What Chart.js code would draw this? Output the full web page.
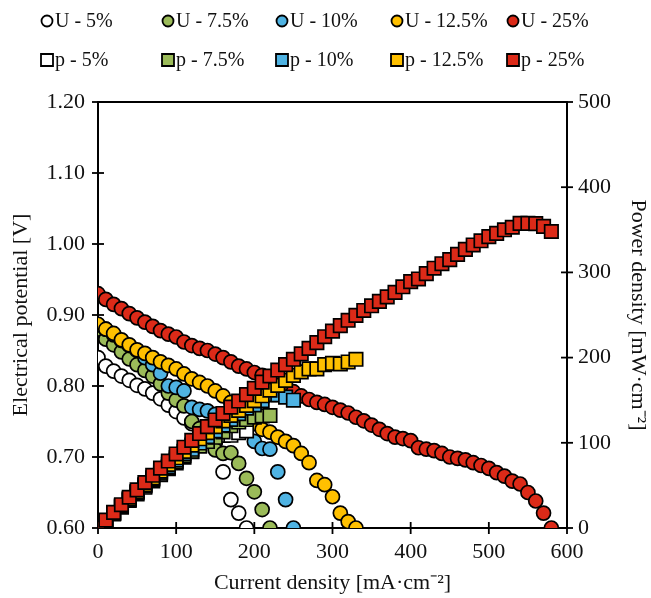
<!DOCTYPE html>
<html><head><meta charset="utf-8">
<script src="https://cdn.jsdelivr.net/npm/chart.js@4.4.0/dist/chart.umd.min.js"></script>
<style>html,body{margin:0;padding:0;background:#fff}</style>
</head><body>
<canvas id="c" width="651" height="598"></canvas>
<script>
// Current density [mA·cm-2]
const current = [0,10,20,30,40,50,60,70,80,90,100,110,120,130,140,150,160,170,180,190,200,210,220,230,240,250,260,270,280,290,300,310,320,330,340,350,360,370,380,390,400,410,420,430,440,450,460,470,480,490,500,510,520,530,540,550,560,570,580];

// Electrical potential [V]
const U5 = [0.840,0.828,0.821,0.814,0.808,0.801,0.796,0.790,0.782,0.773,0.764,0.755,0.747,0.740,0.735,0.720,0.679,0.640,0.621,0.600];
const U75 = [0.880,0.866,0.858,0.848,0.838,0.830,0.822,0.814,0.803,0.790,0.780,0.772,0.750,0.740,0.725,0.710,0.705,0.706,0.691,0.670,0.651,0.626,0.600];
const U10 = [0.886,0.880,0.872,0.864,0.857,0.850,0.840,0.830,0.818,0.800,0.798,0.793,0.770,0.767,0.765,0.760,0.755,0.750,0.745,0.740,0.722,0.712,0.711,0.679,0.640,0.600];
const U125 = [0.887,0.880,0.874,0.865,0.858,0.851,0.846,0.840,0.834,0.829,0.824,0.817,0.810,0.805,0.800,0.793,0.786,0.777,0.767,0.757,0.747,0.739,0.735,0.728,0.722,0.716,0.705,0.692,0.667,0.661,0.644,0.621,0.609,0.600];
const U25 = [0.930,0.922,0.915,0.909,0.902,0.896,0.890,0.884,0.878,0.873,0.869,0.862,0.857,0.853,0.850,0.845,0.840,0.834,0.828,0.824,0.819,0.815,0.811,0.806,0.799,0.792,0.786,0.781,0.777,0.774,0.770,0.766,0.762,0.756,0.751,0.745,0.739,0.733,0.728,0.726,0.723,0.713,0.711,0.709,0.705,0.700,0.698,0.696,0.692,0.688,0.684,0.678,0.673,0.666,0.662,0.650,0.638,0.621,0.600];

// Power density [mW·cm-2]
const p5 = [0,8.3,16.4,24.4,32.3,40.1,47.8,55.3,62.6,69.6,76.4,83.1,89.6,96.2,102.9,108.0,108.6,108.8,111.8,114.0];
const p75 = [0,8.7,17.2,25.4,33.5,41.5,49.3,57.0,64.2,71.1,78.0,84.9,90.0,96.2,101.5,106.5,112.8,120.0,124.4,127.3,130.2,131.5,132.0];
const p10 = [0,8.8,17.4,25.9,34.3,42.5,50.4,58.1,65.4,72.0,79.8,87.2,92.4,99.7,107.1,114.0,120.8,127.5,134.1,140.6,144.4,149.5,156.4,156.2,153.6,150.0];
const p125 = [0,8.8,17.5,26.0,34.3,42.6,50.8,58.8,66.7,74.6,82.4,89.9,97.2,104.7,112.0,119.0,125.8,132.1,138.1,143.8,149.4,155.2,161.7,167.4,173.3,179.0,183.3,186.8,186.8,191.7,193.2,192.5,194.9,198.0];
const p25 = [0,9.2,18.3,27.3,36.1,44.8,53.4,61.9,70.2,78.6,86.9,94.8,102.8,110.9,119.0,126.8,134.4,141.8,149.0,156.6,163.8,171.2,178.4,185.4,191.8,198.0,204.4,210.9,217.6,224.5,231.0,237.5,243.8,249.5,255.3,260.8,266.0,271.2,276.6,283.1,289.2,292.3,298.6,304.9,310.2,315.0,321.1,327.1,332.2,337.1,342.0,345.8,350.0,353.0,357.5,357.5,357.3,354.0,348.0];

const xTicks = [0,100,200,300,400,500,600];
const yTicks = [0.60,0.70,0.80,0.90,1.00,1.10,1.20];
const y1Ticks = [0,100,200,300,400,500];

const labelsU = ['U - 5%','U - 7.5%','U - 10%','U - 12.5%','U - 25%'];
const labelsP = ['p - 5%','p - 7.5%','p - 10%','p - 12.5%','p - 25%'];
const colors = ['#FFFFFF','#9BBB59','#4FB3E3','#FFC000','#DC2A18'];

const Useries = [U5,U75,U10,U125,U25];
const Pseries = [p5,p75,p10,p125,p25];

const FAM = "'Liberation Serif','Times New Roman',serif";
const FONT = {family:FAM, size:22};
const LEGFONT = {family:FAM, size:20};
const TXT = '#111';

const toPts = arr => arr.map((v,i)=>({x:current[i], y:v}));
const datasets = [];
Useries.forEach((s,i)=>datasets.push({
  label: labelsU[i], data: toPts(s), yAxisID:'y',
  pointStyle:'circle', pointRadius:7, pointBorderWidth:1.7,
  backgroundColor: colors[i], borderColor:'#000', showLine:false,
  order: 10 - i
}));
Pseries.forEach((s,i)=>datasets.push({
  label: labelsP[i], data: toPts(s), yAxisID:'y1',
  pointStyle:'rect', pointRadius:9.5, pointBorderWidth:1.7,
  backgroundColor: colors[i], borderColor:'#000', showLine:false,
  order: 5 - i
}));

const frame = {
  id:'frame',
  beforeDatasetsDraw(chart){
    const {ctx, chartArea:a, scales} = chart;
    ctx.save();
    ctx.strokeStyle = '#000'; ctx.lineWidth = 2;
    ctx.beginPath(); ctx.moveTo(a.left-1, a.top); ctx.lineTo(a.right+1, a.top); ctx.stroke();
    const L = 6;
    ctx.lineWidth = 1.8;
    scales.x.ticks.forEach(t=>{const px = scales.x.getPixelForValue(t.value); ctx.beginPath(); ctx.moveTo(px, a.bottom-L); ctx.lineTo(px, a.bottom+L); ctx.stroke();});
    scales.y.ticks.forEach(t=>{const py = scales.y.getPixelForValue(t.value); ctx.beginPath(); ctx.moveTo(a.left-L, py); ctx.lineTo(a.left+L, py); ctx.stroke();});
    scales.y1.ticks.forEach(t=>{const py = scales.y1.getPixelForValue(t.value); ctx.beginPath(); ctx.moveTo(a.right-L, py); ctx.lineTo(a.right+L, py); ctx.stroke();});
    ctx.restore();
  },
  afterDraw(chart){
    const ctx = chart.ctx;
    const colX = [47,168,282,397,513];
    const rowY = [21,60];
    ctx.save();
    ctx.font = LEGFONT.size + 'px ' + LEGFONT.family;
    ctx.textBaseline = 'middle'; ctx.textAlign = 'left';
    chart.data.datasets.forEach((d,i)=>{
      const row = i < 5 ? 0 : 1, col = i % 5;
      const x = colX[col], y = rowY[row];
      ctx.fillStyle = d.backgroundColor; ctx.strokeStyle = '#000'; ctx.lineWidth = 1.8;
      ctx.beginPath();
      if (row === 0) ctx.arc(x, y, 5.5, 0, Math.PI*2);
      else ctx.rect(x-6, y-6, 12, 12);
      ctx.fill(); ctx.stroke();
      ctx.fillStyle = TXT;
      ctx.fillText(d.label, x + 8, y + 1);
    });
    ctx.restore();
  }
};

new Chart(document.getElementById('c'), {
  type:'scatter',
  data:{datasets},
  plugins:[frame],
  options:{
    responsive:false, animation:false, devicePixelRatio:1,
    layout:{padding:{top:102,left:0,right:0,bottom:0}},
    plugins:{legend:{display:false}, tooltip:{enabled:false}},
    scales:{
      x:{type:'linear', min:0, max:600,
        afterBuildTicks(s){ s.ticks = xTicks.map(v=>({value:v})); },
        ticks:{padding:11, font:FONT, color:TXT, maxRotation:0},
        grid:{display:false, drawTicks:false},
        border:{display:true, color:'#000', width:2},
        title:{display:true, text:'Current density [mA·cm⁻²]', font:FONT, color:TXT, padding:{top:0,bottom:2}},
        afterFit(s){ s.height = 70; }
      },
      y:{type:'linear', position:'left', min:0.6, max:1.2,
        afterBuildTicks(s){ s.ticks = yTicks.map(v=>({value:v})); },
        ticks:{padding:13, font:FONT, color:TXT, callback:v=>Number(v).toFixed(2)},
        grid:{display:false, drawTicks:false},
        border:{display:true, color:'#000', width:2},
        title:{display:true, text:'Electrical potential [V]', font:FONT, color:TXT, padding:{top:8,bottom:0}},
        afterFit(s){ s.width = 98; }
      },
      y1:{type:'linear', position:'right', min:0, max:500,
        afterBuildTicks(s){ s.ticks = y1Ticks.map(v=>({value:v})); },
        ticks:{padding:11, font:FONT, color:TXT},
        grid:{display:false, drawTicks:false},
        border:{display:true, color:'#000', width:2},
        title:{display:true, text:'Power density [mW·cm⁻²]', font:FONT, color:TXT, padding:{top:0,bottom:0}},
        afterFit(s){ s.width = 84; }
      }
    }
  }
});
</script>
</body></html>
